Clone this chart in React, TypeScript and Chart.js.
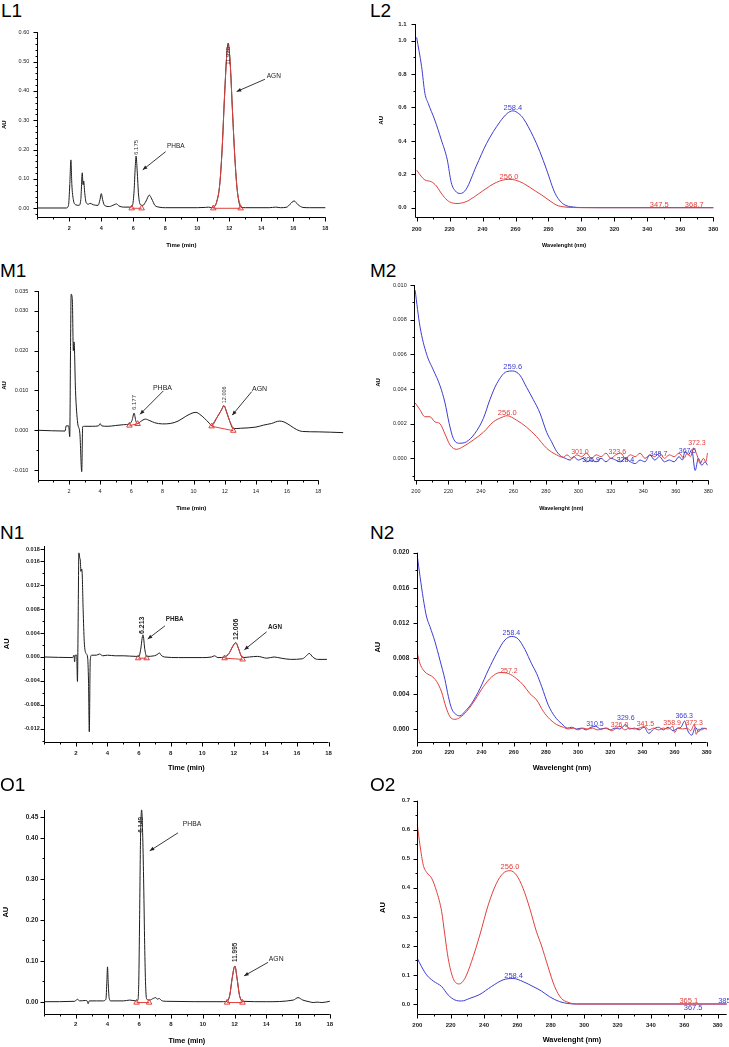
import React, { useEffect, useRef } from 'react';
import { Chart, registerables } from 'chart.js';

Chart.register(...registerables);

type Pt = [number, number];

const FONT = '"Liberation Sans", Arial, Helvetica, sans-serif';
const BLACK = '#1c1c1c';
const RED = '#e0403c';
const BLUE = '#3c3cd2';

// ---------------- DATA ----------------
const TIME_TICKS = [2, 4, 6, 8, 10, 12, 14, 16, 18];
const WAVE_TICKS = [200, 220, 240, 260, 280, 300, 320, 340, 360, 380];

// L1 chromatogram
const L1_TRACE: Pt[] = [[0,0.001],[1.8,0.001],[1.95,0.01],[2.03,0.08],[2.1,0.165],[2.16,0.08],[2.25,0.03],[2.4,0.012],[2.6,0.01],[2.72,0.03],[2.81,0.121],[2.86,0.08],[2.9,0.093],[2.96,0.055],[3.05,0.02],[3.2,0.014],[3.3,0.017],[3.5,0.012],[3.8,0.01],[3.92,0.03],[4.0,0.05],[4.08,0.03],[4.2,0.01],[4.5,0.006],[4.8,0.012],[4.95,0.015],[5.1,0.008],[5.4,0.004],[5.8,0.004],[5.95,0.01],[6.05,0.06],[6.12,0.14],[6.175,0.178],[6.24,0.13],[6.33,0.045],[6.45,0.012],[6.6,0.01],[6.8,0.025],[7.0,0.045],[7.15,0.032],[7.35,0.01],[7.6,0.004],[8.0,0.002],[10.0,0.002],[10.5,0.003],[10.7,0.004],[10.9,0.002],[11.0,0.003],[11.2,0.02],[11.4,0.08],[11.55,0.2],[11.7,0.38],[11.85,0.53],[11.93,0.563],[12.05,0.5],[12.2,0.33],[12.35,0.17],[12.5,0.06],[12.72,0.004],[13.0,0.002],[14.5,0.002],[14.9,0.004],[15.2,0.002],[15.6,0.004],[15.8,0.014],[16.05,0.025],[16.3,0.012],[16.6,0.003],[17.0,0.002],[18.0,0.002]];
const L1_AGN: Pt[] = [[11.0,0.003],[11.2,0.02],[11.4,0.08],[11.55,0.2],[11.7,0.38],[11.85,0.53],[11.93,0.555],[12.05,0.5],[12.2,0.33],[12.35,0.17],[12.5,0.06],[12.72,0.004]];
const L1_MARKS: Pt[][] = [[[5.9,0],[6.52,0]],[[11.0,0],[12.71,0]]];

// L2 spectra
const L2_BLUE: Pt[] = [[200,1.02],[203,0.845],[205,0.685],[207,0.625],[211,0.525],[215,0.405],[218.6,0.286],[221,0.15],[223.5,0.1],[226.5,0.085],[230,0.11],[236,0.245],[242.5,0.386],[250.6,0.515],[255,0.565],[258.4,0.58],[262,0.563],[264.7,0.535],[270.8,0.425],[274.8,0.335],[278.9,0.226],[284,0.086],[289,0.022],[295,0.004],[300,0.001],[310,0.0],[380,0.0]];
const L2_RED: Pt[] = [[200,0.225],[203,0.185],[205,0.166],[209,0.155],[212,0.13],[214,0.1],[217,0.06],[220,0.035],[224.5,0.025],[230,0.036],[235,0.065],[240,0.1],[248.5,0.152],[256,0.17],[260,0.165],[264.7,0.146],[272,0.1],[276,0.075],[281,0.04],[285,0.015],[290,0.004],[295,0.001],[300,0.0],[380,0.0]];

// M1 chromatogram
const M1_TRACE: Pt[] = [[0,0],[1.75,-0.0002],[1.82,0.0011],[1.98,0.0011],[2.05,-0.0016],[2.1,0.02],[2.14,0.0342],[2.22,0.0325],[2.28,0.02],[2.33,0.0222],[2.42,0.01],[2.56,0.0018],[2.7,-0.0008],[2.82,-0.0104],[2.88,0.0009],[3.0,0.001],[3.5,0.001],[3.9,0.0011],[4.0,0.0017],[4.1,0.0011],[4.5,0.001],[5.0,0.0012],[5.5,0.0014],[5.88,0.0016],[6.05,0.0025],[6.18,0.0043],[6.3,0.0022],[6.41,0.0017],[6.6,0.0022],[6.9,0.0028],[7.2,0.0024],[7.5,0.0019],[8.0,0.0016],[8.5,0.0017],[9.0,0.0023],[9.5,0.0035],[9.9,0.0043],[10.15,0.0045],[10.4,0.004],[10.7,0.003],[11.0,0.0018],[11.16,0.0012],[11.5,0.0032],[11.8,0.0052],[11.95,0.0062],[12.1,0.0048],[12.3,0.0025],[12.55,0.0004],[13.0,0.0005],[14.0,0.0008],[14.5,0.0013],[15.0,0.0017],[15.5,0.0023],[15.8,0.0021],[16.2,0.0012],[16.6,0.0002],[17.0,-0.0003],[18.0,-0.0004],[19.6,-0.0006]];
const M1_AGN: Pt[] = [[11.16,0.0012],[11.5,0.0032],[11.8,0.0052],[11.95,0.0062],[12.1,0.0048],[12.3,0.0025],[12.55,0.0004]];
const M1_MARKS: Pt[][] = [[[5.88,0.0012],[6.41,0.0016]],[[11.16,0.001],[12.55,-0.0001]]];

// M2 spectra
const M2_BLUE: Pt[] = [[199.5,0.0097],[202.5,0.0076],[206.6,0.006],[210.7,0.0051],[214.8,0.0042],[217.9,0.0032],[220.5,0.002],[223,0.00115],[226.7,0.00087],[231.2,0.00096],[236.3,0.00144],[241.5,0.0023],[245.6,0.0034],[249.7,0.0043],[255.8,0.005],[259.5,0.00504],[264,0.0048],[268.1,0.0041],[272.2,0.0034],[276.4,0.0026],[280.5,0.0015],[283.5,0.00096],[286.6,0.0004],[289.7,0.0001],[292,0.0],[295,-0.0001],[297,0.0001],[300,-0.0001],[303,0.0],[305,-0.0002],[308,-0.0001],[311,-0.0002],[314,0.0],[317,-0.0002],[320,0.0],[323,-0.0001],[326,-0.0002],[329,0.0],[332,-0.0002],[335,-0.0003],[338,-0.0001],[341,-0.0002],[344,0.0002],[347,-0.0001],[350,0.0001],[353,-0.0002],[356,-0.0001],[359,-0.0002],[362,0.0001],[364,-0.0001],[365.7,0.0004],[367.8,0.0002],[369.8,0.0005],[371.9,-0.0007],[373.9,0.0],[376,-0.0004],[378,-0.0002],[379.5,-0.0004]];
const M2_RED: Pt[] = [[199.5,0.0032],[202.5,0.0028],[205.5,0.0024],[208.6,0.0024],[211.7,0.0021],[214.8,0.002],[217.9,0.0014],[221,0.00077],[225,0.00052],[229,0.00067],[235.3,0.00106],[241.5,0.0015],[247.6,0.0021],[253.8,0.0024],[256,0.00246],[262,0.0022],[268.1,0.0018],[274.3,0.00125],[280.5,0.00058],[286.6,0.0002],[290.7,0.00006],[293,0.0002],[296,0.0],[299,0.0002],[302,0.0001],[305,0.0003],[308,0.0],[311,0.0002],[314,0.0001],[317,0.0003],[320,0.0],[323,0.0002],[326,0.0003],[329,0.0],[332,0.0002],[335,0.0001],[338,0.0003],[341,0.0],[344,0.0002],[347,0.0001],[350,0.0003],[353,0.0],[356,0.0002],[359,0.0001],[362,0.0003],[365,0.0],[367,0.0003],[369,0.0001],[371,0.0006],[373,0.0002],[375,-0.0003],[377,0.0],[378.5,-0.0002],[379.5,0.0003]];

// N1 chromatogram
const N1_TRACE: Pt[] = [[0,0],[1.8,-0.0001],[1.88,0.0003],[1.92,-0.0008],[1.96,0.0003],[2.05,0.0003],[2.1,-0.0041],[2.14,0.005],[2.19,0.0174],[2.25,0.0165],[2.28,0.0162],[2.32,0.0143],[2.36,0.0147],[2.39,0.0144],[2.46,0.0079],[2.53,0.0026],[2.64,0.0006],[2.74,0.0],[2.8,-0.004],[2.85,-0.0125],[2.91,-0.0005],[3.0,0.0003],[3.3,0.0003],[3.5,0.0005],[3.7,0.0002],[4.0,0.0003],[4.5,0.0002],[5.0,0.0002],[5.8,0.0001],[6.0,0.0001],[6.1,0.0012],[6.25,0.0037],[6.37,0.0012],[6.48,0.0001],[6.97,0.0002],[7.2,0.0005],[7.28,0.0007],[7.4,0.0003],[7.6,0.0],[8.5,-0.0001],[10.0,-0.0001],[10.6,0.0],[10.77,0.0002],[11.0,-0.0001],[11.42,0.0],[11.7,0.0006],[11.92,0.0017],[12.13,0.0024],[12.3,0.0014],[12.45,0.0003],[12.56,-0.0001],[13.0,0.0],[13.5,0.0001],[14.1,-0.0002],[14.55,0.0],[15.0,-0.0002],[15.6,-0.0004],[16.35,-0.0003],[16.6,0.0002],[16.78,0.0006],[17.0,0.0],[17.3,-0.0004],[17.9,-0.0004]];
const N1_AGN: Pt[] = [[11.42,0.0],[11.7,0.0006],[11.92,0.0017],[12.13,0.0024],[12.3,0.0014],[12.45,0.0003],[12.56,-0.0001]];
const N1_MARKS: Pt[][] = [[[5.95,-0.0002],[6.48,-0.0002]],[[11.42,-0.0002],[12.56,-0.0004]]];

// N2 spectra
const N2_BLUE: Pt[] = [[200,0.0196],[201.7,0.0173],[203.7,0.0148],[205.8,0.0127],[207.9,0.0116],[211,0.0099],[214.1,0.0078],[217.2,0.0056],[219.3,0.0037],[221.4,0.0023],[224.5,0.0016],[226.5,0.0015],[229.7,0.002],[233.8,0.0029],[239,0.0046],[244.2,0.0067],[249.4,0.0086],[254.5,0.0101],[258.7,0.0105],[262.8,0.0102],[267,0.009],[271.1,0.0074],[274.2,0.0063],[277.4,0.0048],[281.5,0.0027],[285.6,0.0014],[289.8,0.0006],[293.5,0.0001],[296,0.0002],[299,0.0],[302,0.0001],[305,-0.0001],[308,0.0002],[311,0.0003],[314,0.0],[317,0.0001],[320,-0.0001],[323,0.0001],[326,0.0],[329.6,0.0005],[332,0.0],[335,0.0001],[338,-0.0001],[341,0.0002],[344,-0.0005],[347,0.0],[350,0.0002],[353,-0.0001],[356,0.0002],[359,-0.0002],[362,0.0001],[364,0.0002],[366.3,0.0009],[368,-0.0001],[370.7,-0.0007],[373,0.0002],[375,-0.0003],[377,0.0001],[380,0.0]];
const N2_RED: Pt[] = [[200,0.0086],[201.7,0.0074],[203.7,0.0067],[205.8,0.0063],[208.9,0.006],[212,0.0054],[215.1,0.0042],[217.8,0.0025],[220.3,0.0014],[223.4,0.0011],[226.5,0.0013],[230.7,0.002],[235.9,0.0033],[241.1,0.0048],[246.2,0.0059],[251.4,0.0064],[256.6,0.0063],[261.8,0.0057],[265.9,0.005],[270.1,0.004],[274.2,0.0033],[278.4,0.002],[282.5,0.0011],[286.7,0.0005],[290.8,0.0002],[294,0.0],[297,0.0001],[300,-0.0001],[303,0.0001],[306,0.0],[309,0.0001],[312,-0.0001],[315,0.0],[318,0.0001],[321,-0.0002],[323,0.0],[326,0.0003],[329,-0.0001],[332,0.0001],[335,0.0],[338,0.0001],[341.5,0.0003],[344,-0.0001],[347,0.0001],[350,-0.0001],[353,0.0001],[356,0.0],[358.9,0.0003],[360,-0.0004],[362,0.0001],[365,0.0],[368,0.0001],[370,-0.0002],[372.3,0.0005],[373.5,-0.0006],[375,0.0],[377,-0.0001],[379,0.0001],[380,0.0]];

// O1 chromatogram
const O1_TRACE: Pt[] = [[0,0],[1.94,0.001],[2.1,0.006],[2.25,0.002],[2.6,0.003],[2.72,0.002],[2.78,-0.005],[2.85,0.002],[3.3,0.002],[3.7,0.002],[3.9,0.006],[3.96,0.05],[4.0,0.085],[4.04,0.05],[4.1,0.01],[4.2,0.002],[5.0,0.002],[5.4,0.004],[5.8,0.002],[5.9,0.003],[5.97,0.05],[6.02,0.2],[6.08,0.4],[6.15,0.468],[6.22,0.4],[6.28,0.285],[6.34,0.14],[6.4,0.04],[6.47,0.006],[6.66,0.004],[6.88,0.008],[7.04,0.01],[7.15,0.006],[7.25,0.008],[7.4,0.003],[7.7,0.001],[11.3,0.0],[11.53,0.001],[11.7,0.016],[11.85,0.057],[12.02,0.087],[12.16,0.057],[12.31,0.016],[12.5,0.001],[14.0,0.0],[15.7,0.004],[16.0,0.01],[16.3,0.004],[16.7,0.0],[16.95,-0.002],[17.2,-0.001],[17.5,-0.002],[18.0,0.001]];
const O1_AGN: Pt[] = [[11.53,0.001],[11.7,0.016],[11.85,0.057],[12.02,0.087],[12.16,0.057],[12.31,0.016],[12.5,0.001]];
const O1_MARKS: Pt[][] = [[[5.83,-0.002],[6.62,-0.002]],[[11.53,-0.002],[12.5,-0.002]]];

// O2 spectra
const O2_BLUE: Pt[] = [[200,0.157],[202.6,0.128],[205.6,0.1],[209.6,0.079],[214.6,0.06],[218.5,0.031],[222.5,0.014],[226.5,0.0103],[231.5,0.0195],[237.5,0.033],[244.4,0.06],[251.4,0.083],[257.4,0.088],[263.4,0.077],[269.4,0.06],[274.3,0.045],[279.3,0.025],[285.3,0.008],[291.3,0.001],[295.3,0.0],[385.4,0.0]];
const O2_RED: Pt[] = [[200,0.618],[201.6,0.547],[203.6,0.478],[205.6,0.453],[208.6,0.433],[211.6,0.387],[214.6,0.318],[216.5,0.238],[218.5,0.157],[221.5,0.088],[225.1,0.069],[228.5,0.088],[232.5,0.146],[237.5,0.238],[242.5,0.341],[247.4,0.415],[251.4,0.45],[255.5,0.459],[259.4,0.444],[263.4,0.398],[267.4,0.329],[271.4,0.249],[274.3,0.203],[278.3,0.129],[282.3,0.06],[286.3,0.0195],[290.3,0.006],[295.3,0.0],[385.4,0.0]];

// ---------------- CONFIG TYPES ----------------
interface Note { x: number; y: number; text: string; color: string; size: number; bold?: boolean; rot?: boolean; align?: CanvasTextAlign; base?: CanvasTextBaseline; }
interface Arrow { from: Pt; to: Pt; }
interface AxisCfg { min: number; max: number; end?: number; majors: number[]; minor: number; dec: number; title: string; titleSize: number; titleAt: number; tickSize: number; tickBold: boolean; tickOff: number; }
interface Series { data: Pt[]; color: string; order: number; }
interface PanelCfg { label: string; labelPos: [number, number]; box: [number, number, number, number]; area: [number, number, number, number]; x: AxisCfg; y: AxisCfg; series: Series[]; marks: Pt[][]; notes: Note[]; arrows: Arrow[]; }

const GRAY = '#333';

const PANELS: PanelCfg[] = [
  {
    label: 'L1', labelPos: [1, 0.8], box: [0, 22, 362, 238], area: [37.3, 32.3, 325.3, 217],
    x: { min: 0, max: 18, majors: TIME_TICKS, minor: 1, dec: 0, title: 'Time (min)', titleSize: 6, titleAt: 245, tickSize: 5.5, tickBold: true, tickOff: 11 },
    y: { min: -0.0297, max: 0.6, majors: [0, 0.1, 0.2, 0.3, 0.4, 0.5, 0.6], minor: 0.02, dec: 2, title: 'AU', titleSize: 6, titleAt: 4.5, tickSize: 5.5, tickBold: false, tickOff: 8 },
    series: [{ data: L1_TRACE, color: BLACK, order: 3 }, { data: L1_AGN, color: RED, order: 2 }],
    marks: L1_MARKS,
    notes: [
      { x: 6.175, y: 0.182, text: '6.175', color: GRAY, size: 6, rot: true },
      { x: 11.93, y: 0.489, text: '11.920', color: GRAY, size: 6, rot: true },
      { x: 8.1, y: 0.213, text: 'PHBA', color: '#222', size: 6.5, align: 'left', base: 'middle' },
      { x: 14.34, y: 0.451, text: 'AGN', color: '#222', size: 6.5, align: 'left', base: 'middle' },
    ],
    arrows: [{ from: [8.02, 0.193], to: [6.59, 0.131] }, { from: [14.23, 0.44], to: [12.46, 0.398] }],
  },
  {
    label: 'L2', labelPos: [370, 0.8], box: [362, 22, 367, 238], area: [415, 24, 713.3, 216.7],
    x: { min: 199, max: 380, majors: WAVE_TICKS, minor: 10, dec: 0, title: 'Wavelenght (nm)', titleSize: 5.5, titleAt: 245, tickSize: 6, tickBold: true, tickOff: 12.3 },
    y: { min: -0.054, max: 1.1, majors: [0, 0.2, 0.4, 0.6, 0.8, 1.0, 1.1], minor: 0.1, dec: 1, title: 'AU', titleSize: 6, titleAt: 381.7, tickSize: 6, tickBold: true, tickOff: 8.3 },
    series: [{ data: L2_BLUE, color: BLUE, order: 2 }, { data: L2_RED, color: RED, order: 1 }],
    marks: [],
    notes: [
      { x: 258.4, y: 0.583, text: '258.4', color: BLUE, size: 7.5 },
      { x: 256.0, y: 0.172, text: '256.0', color: RED, size: 7.5 },
      { x: 347.2, y: 0.003, text: '347.5', color: RED, size: 7.5 },
      { x: 368.4, y: 0.003, text: '368.7', color: RED, size: 7.5 },
    ],
    arrows: [],
  },
  {
    label: 'M1', labelPos: [0, 260.8], box: [0, 282, 362, 233], area: [37.8, 291, 344.7, 480],
    x: { min: 0, max: 19.7, end: 18, majors: TIME_TICKS, minor: 1, dec: 0, title: 'Time (min)', titleSize: 6, titleAt: 508.3, tickSize: 5.5, tickBold: false, tickOff: 11 },
    y: { min: -0.0125, max: 0.035, majors: [-0.01, 0, 0.01, 0.02, 0.03, 0.035], minor: 0.005, dec: 3, title: 'AU', titleSize: 6, titleAt: 4.7, tickSize: 5.5, tickBold: false, tickOff: 9.4 },
    series: [{ data: M1_TRACE, color: BLACK, order: 3 }, { data: M1_AGN, color: RED, order: 2 }],
    marks: M1_MARKS,
    notes: [
      { x: 6.18, y: 0.0051, text: '6.177', color: GRAY, size: 6, rot: true },
      { x: 11.97, y: 0.0068, text: '12.006', color: GRAY, size: 5.5, rot: true },
      { x: 7.39, y: 0.0107, text: 'PHBA', color: '#222', size: 7, align: 'left', base: 'middle' },
      { x: 13.75, y: 0.0103, text: 'AGN', color: '#222', size: 7, align: 'left', base: 'middle' },
    ],
    arrows: [{ from: [8.06, 0.0099], to: [6.56, 0.004] }, { from: [13.73, 0.0097], to: [12.48, 0.0038] }],
  },
  {
    label: 'M2', labelPos: [370, 260.8], box: [362, 282, 367, 233], area: [414.3, 285, 708.3, 480],
    x: { min: 199, max: 380, majors: WAVE_TICKS, minor: 10, dec: 0, title: 'Wavelenght (nm)', titleSize: 5.5, titleAt: 508, tickSize: 5.5, tickBold: false, tickOff: 11.7 },
    y: { min: -0.00125, max: 0.01, majors: [0, 0.002, 0.004, 0.006, 0.008, 0.01], minor: 0.001, dec: 3, title: 'AU', titleSize: 6, titleAt: 378, tickSize: 5.5, tickBold: false, tickOff: 7.6 },
    series: [{ data: M2_BLUE, color: BLUE, order: 2 }, { data: M2_RED, color: RED, order: 1 }],
    marks: [],
    notes: [
      { x: 259.6, y: 0.00515, text: '259.6', color: BLUE, size: 7.5 },
      { x: 256.2, y: 0.00252, text: '256.0', color: RED, size: 7.5 },
      { x: 301.0, y: 0.00025, text: '301.0', color: RED, size: 7 },
      { x: 307.8, y: -0.0002, text: '305.9', color: '#2c2ca8', size: 7 },
      { x: 324.0, y: 0.00025, text: '323.6', color: RED, size: 7 },
      { x: 329.0, y: -0.0002, text: '328.4', color: '#2c2ca8', size: 7 },
      { x: 349.4, y: 0.00015, text: '348.7', color: BLUE, size: 7 },
      { x: 367.2, y: 0.00032, text: '367.5', color: BLUE, size: 7 },
      { x: 373.0, y: 0.00077, text: '372.3', color: RED, size: 7 },
    ],
    arrows: [],
  },
  {
    label: 'N1', labelPos: [0, 522.5], box: [0, 540, 362, 240], area: [44.3, 546, 328.5, 741.7],
    x: { min: 0, max: 18, majors: TIME_TICKS, minor: 1, dec: 0, title: 'Time (min)', titleSize: 7.3, titleAt: 768.3, tickSize: 6, tickBold: true, tickOff: 11.7 },
    y: { min: -0.01416, max: 0.01855, majors: [-0.012, -0.008, -0.004, 0, 0.004, 0.008, 0.012, 0.016, 0.018], minor: 0.002, dec: 3, title: 'AU', titleSize: 7.5, titleAt: 7.3, tickSize: 5.5, tickBold: true, tickOff: 4.5 },
    series: [{ data: N1_TRACE, color: BLACK, order: 3 }, { data: N1_AGN, color: RED, order: 2 }],
    marks: N1_MARKS,
    notes: [
      { x: 6.19, y: 0.00384, text: '6.213', color: '#222', size: 7, bold: true, rot: true },
      { x: 12.12, y: 0.00284, text: '12.006', color: '#222', size: 7, bold: true, rot: true },
      { x: 7.69, y: 0.0063, text: 'PHBA', color: '#222', size: 6.3, bold: true, align: 'left', base: 'middle' },
      { x: 14.17, y: 0.005, text: 'AGN', color: '#222', size: 6.3, bold: true, align: 'left', base: 'middle' },
    ],
    arrows: [{ from: [7.64, 0.0052], to: [6.55, 0.003] }, { from: [14.08, 0.0042], to: [12.67, 0.0012] }],
  },
  {
    label: 'N2', labelPos: [370, 522.5], box: [362, 540, 367, 240], area: [417.3, 552.7, 706.7, 741.7],
    x: { min: 200, max: 380, majors: WAVE_TICKS, minor: 10, dec: 0, title: 'Wavelenght (nm)', titleSize: 7.3, titleAt: 767.7, tickSize: 6, tickBold: true, tickOff: 11 },
    y: { min: -0.00144, max: 0.02, majors: [0, 0.004, 0.008, 0.012, 0.016, 0.02], minor: 0.002, dec: 3, title: 'AU', titleSize: 7.5, titleAt: 378.3, tickSize: 6.5, tickBold: true, tickOff: 8 },
    series: [{ data: N2_BLUE, color: BLUE, order: 2 }, { data: N2_RED, color: RED, order: 1 }],
    marks: [],
    notes: [
      { x: 258.5, y: 0.0107, text: '258.4', color: BLUE, size: 7 },
      { x: 257.0, y: 0.0064, text: '257.2', color: RED, size: 7 },
      { x: 310.5, y: 0.00037, text: '310.5', color: BLUE, size: 7 },
      { x: 329.7, y: 0.001, text: '329.6', color: BLUE, size: 7 },
      { x: 325.8, y: 0.0002, text: '326.0', color: RED, size: 7 },
      { x: 341.9, y: 0.00037, text: '341.5', color: RED, size: 7 },
      { x: 358.5, y: 0.0005, text: '358.9', color: RED, size: 7 },
      { x: 366.0, y: 0.00125, text: '366.3', color: BLUE, size: 7 },
      { x: 372.2, y: 0.0005, text: '372.3', color: RED, size: 7 },
    ],
    arrows: [],
  },
  {
    label: 'O1', labelPos: [0, 774.5], box: [0, 800, 362, 247], area: [44, 810, 329.8, 1014.3],
    x: { min: 0, max: 18, majors: TIME_TICKS, minor: 1, dec: 0, title: 'Time (min)', titleSize: 7.3, titleAt: 1041, tickSize: 6, tickBold: true, tickOff: 10 },
    y: { min: -0.0307, max: 0.4677, majors: [0, 0.1, 0.2, 0.3, 0.4, 0.45], minor: 0.05, dec: 2, title: 'AU', titleSize: 7.5, titleAt: 6, tickSize: 6.5, tickBold: true, tickOff: 5.7 },
    series: [{ data: O1_TRACE, color: BLACK, order: 3 }, { data: O1_AGN, color: RED, order: 2 }],
    marks: O1_MARKS,
    notes: [
      { x: 6.14, y: 0.412, text: '6.149', color: GRAY, size: 6.4, bold: true, rot: true },
      { x: 12.02, y: 0.097, text: '11.995', color: GRAY, size: 6.4, bold: true, rot: true },
      { x: 8.74, y: 0.433, text: 'PHBA', color: '#222', size: 6.8, align: 'left', base: 'middle' },
      { x: 14.16, y: 0.104, text: 'AGN', color: '#222', size: 6.8, align: 'left', base: 'middle' },
    ],
    arrows: [{ from: [8.44, 0.412], to: [6.66, 0.368] }, { from: [14.11, 0.096], to: [12.6, 0.063] }],
  },
  {
    label: 'O2', labelPos: [370, 774.5], box: [362, 795, 367, 252], area: [417.3, 800.7, 726.7, 1014.3],
    x: { min: 200, max: 385.4, majors: WAVE_TICKS, minor: 10, dec: 0, title: 'Wavelenght (nm)', titleSize: 7.3, titleAt: 1040, tickSize: 6, tickBold: true, tickOff: 10.7 },
    y: { min: -0.0355, max: 0.7, majors: [0, 0.1, 0.2, 0.3, 0.4, 0.5, 0.6, 0.7], minor: 0.05, dec: 1, title: 'AU', titleSize: 7.5, titleAt: 382.7, tickSize: 6, tickBold: true, tickOff: 7.3 },
    series: [{ data: O2_BLUE, color: BLUE, order: 2 }, { data: O2_RED, color: RED, order: 1 }],
    marks: [],
    notes: [
      { x: 255.5, y: 0.464, text: '256.0', color: RED, size: 7.5 },
      { x: 257.7, y: 0.0885, text: '258.4', color: BLUE, size: 7.5 },
      { x: 362.7, y: 0.0035, text: '365.1', color: RED, size: 7.5 },
      { x: 365.3, y: -0.0207, text: '367.5', color: BLUE, size: 7.5 },
      { x: 380.3, y: 0.0035, text: '385.1', color: BLUE, size: 7.5, align: 'left' },
    ],
    arrows: [],
  },
];

// ---------------- DRAWING ----------------
function tickValues(min: number, end: number, step: number): number[] {
  const out: number[] = [];
  const k0 = Math.ceil(min / step - 1e-9);
  for (let k = k0; k * step <= end + 1e-9; k++) out.push(k * step);
  return out;
}

function drawDecor(chart: any, cfg: PanelCfg) {
  const ctx: CanvasRenderingContext2D = chart.ctx;
  const xs = chart.scales.x;
  const ys = chart.scales.y;
  const px = (v: number) => xs.getPixelForValue(v);
  const py = (v: number) => ys.getPixelForValue(v);
  ctx.save();
  ctx.strokeStyle = '#000';
  ctx.lineWidth = 1;
  const ax = Math.round(px(cfg.x.min)) + 0.5;
  const ay = Math.round(py(cfg.y.min)) + 0.5;
  const xEnd = px(cfg.x.end ?? cfg.x.max);
  const yEnd = py(cfg.y.end ?? cfg.y.max);
  ctx.beginPath();
  ctx.moveTo(ax, yEnd);
  ctx.lineTo(ax, ay);
  ctx.lineTo(xEnd, ay);
  for (const v of cfg.y.majors) {
    const p = Math.round(py(v)) + 0.5;
    ctx.moveTo(ax - 4, p); ctx.lineTo(ax, p);
  }
  for (const v of tickValues(cfg.y.min, cfg.y.end ?? cfg.y.max, cfg.y.minor)) {
    const p = Math.round(py(v)) + 0.5;
    ctx.moveTo(ax - 2, p); ctx.lineTo(ax, p);
  }
  for (const v of cfg.x.majors) {
    const p = Math.round(px(v)) + 0.5;
    ctx.moveTo(p, ay); ctx.lineTo(p, ay + 4);
  }
  for (const v of tickValues(cfg.x.min, cfg.x.end ?? cfg.x.max, cfg.x.minor)) {
    const p = Math.round(px(v)) + 0.5;
    ctx.moveTo(p, ay); ctx.lineTo(p, ay + 2);
  }
  ctx.stroke();

  for (const n of cfg.notes) {
    const x = px(n.x);
    const y = py(n.y);
    ctx.font = `${n.bold ? 'bold ' : ''}${n.size}px ${FONT}`;
    ctx.fillStyle = n.color;
    if (n.rot) {
      ctx.save();
      ctx.translate(x, y);
      ctx.rotate(-Math.PI / 2);
      ctx.textAlign = 'left';
      ctx.textBaseline = 'middle';
      ctx.fillText(n.text, 0, 0);
      ctx.restore();
    } else {
      ctx.textAlign = n.align ?? 'center';
      ctx.textBaseline = n.base ?? 'alphabetic';
      ctx.fillText(n.text, x, y);
    }
  }

  for (const a of cfg.arrows) {
    const x1 = px(a.from[0]), y1 = py(a.from[1]);
    const x2 = px(a.to[0]), y2 = py(a.to[1]);
    ctx.strokeStyle = '#222';
    ctx.fillStyle = '#222';
    ctx.lineWidth = 0.9;
    ctx.beginPath();
    ctx.moveTo(x1, y1);
    ctx.lineTo(x2, y2);
    ctx.stroke();
    const ang = Math.atan2(y2 - y1, x2 - x1);
    const L = 4.5, W = 1.9;
    const bx = x2 - L * Math.cos(ang), by = y2 - L * Math.sin(ang);
    ctx.beginPath();
    ctx.moveTo(x2, y2);
    ctx.lineTo(bx + W * Math.sin(ang), by - W * Math.cos(ang));
    ctx.lineTo(bx - W * Math.sin(ang), by + W * Math.cos(ang));
    ctx.closePath();
    ctx.fill();
  }
  ctx.restore();
}

function axisOptions(a: AxisCfg, horizontal: boolean, thickness: number, titlePad: number) {
  const tickPad = horizontal ? a.tickOff - (a.tickSize * 1.2) / 2 : a.tickOff;
  return {
    type: 'linear',
    position: horizontal ? 'bottom' : 'left',
    min: a.min,
    max: a.max,
    grid: { display: false, drawTicks: false, tickLength: 0 },
    border: { display: false },
    ticks: {
      autoSkip: false,
      maxRotation: 0,
      minRotation: 0,
      padding: tickPad,
      color: '#222',
      font: { family: FONT, size: a.tickSize, weight: a.tickBold ? 'bold' : 'normal', lineHeight: 1.2 },
      callback: (v: any) => Number(v).toFixed(a.dec),
    },
    afterBuildTicks: (s: any) => { s.ticks = a.majors.map((v) => ({ value: v })); },
    afterFit: (s: any) => {
      if (horizontal) s.height = thickness; else s.width = thickness;
      s.paddingLeft = 0; s.paddingRight = 0; s.paddingTop = 0; s.paddingBottom = 0;
    },
    title: {
      display: true,
      text: a.title,
      color: '#000',
      font: { family: FONT, size: a.titleSize, weight: 'bold', lineHeight: 1.2 },
      padding: horizontal ? { top: 0, bottom: titlePad } : { top: titlePad, bottom: 0 },
    },
  };
}

function Panel({ cfg }: { cfg: PanelCfg }) {
  const ref = useRef<HTMLCanvasElement>(null);
  const [bl, bt, bw, bh] = cfg.box;
  useEffect(() => {
    const cv = ref.current;
    if (!cv) return;
    const [al, at, ar, ab] = cfg.area;
    const xThick = bt + bh - ab;
    const yThick = al - bl;
    const xTitlePad = bt + bh - cfg.x.titleAt - (cfg.x.titleSize * 1.2) / 2;
    const yTitlePad = cfg.y.titleAt - bl - (cfg.y.titleSize * 1.2) / 2;
    const datasets: any[] = cfg.series.map((s) => ({
      data: s.data.map(([x, y]) => ({ x, y })),
      borderColor: s.color,
      borderWidth: 1,
      pointRadius: 0,
      cubicInterpolationMode: 'monotone',
      fill: false,
      order: s.order,
      clip: 4,
    }));
    cfg.marks.forEach((pair) => {
      datasets.push({
        data: pair.map(([x, y]) => ({ x, y })),
        borderColor: RED,
        borderWidth: 1,
        tension: 0,
        pointStyle: 'triangle',
        pointRadius: 3.2,
        pointBorderColor: RED,
        pointBackgroundColor: 'rgba(255,255,255,0)',
        pointBorderWidth: 1,
        fill: false,
        order: 0,
        clip: 6,
      });
    });
    const chart = new Chart(cv, {
      type: 'line',
      data: { datasets },
      options: {
        animation: false,
        responsive: false,
        maintainAspectRatio: false,
        devicePixelRatio: 1,
        events: [],
        layout: { padding: { left: 0, bottom: 0, top: at - bt, right: bl + bw - ar } },
        plugins: { legend: { display: false }, tooltip: { enabled: false }, title: { display: false } },
        scales: {
          x: axisOptions(cfg.x, true, xThick, xTitlePad) as any,
          y: axisOptions(cfg.y, false, yThick, yTitlePad) as any,
        },
      } as any,
      plugins: [{ id: 'decor', afterDraw: (c: any) => drawDecor(c, cfg) }],
    });
    return () => chart.destroy();
  }, [cfg]);
  return (
    <>
      <div style={{ position: 'absolute', left: cfg.labelPos[0], top: cfg.labelPos[1], fontFamily: FONT, fontSize: 19, lineHeight: '19px', color: '#000', whiteSpace: 'nowrap' }}>{cfg.label}</div>
      <canvas ref={ref} width={bw} height={bh} style={{ position: 'absolute', left: bl, top: bt, width: bw, height: bh }} />
    </>
  );
}

export default function App() {
  return (
    <div style={{ position: 'absolute', left: 0, top: 0, width: 729, height: 1047, background: '#fff', overflow: 'hidden' }}>
      {PANELS.map((p) => <Panel key={p.label} cfg={p} />)}
    </div>
  );
}
